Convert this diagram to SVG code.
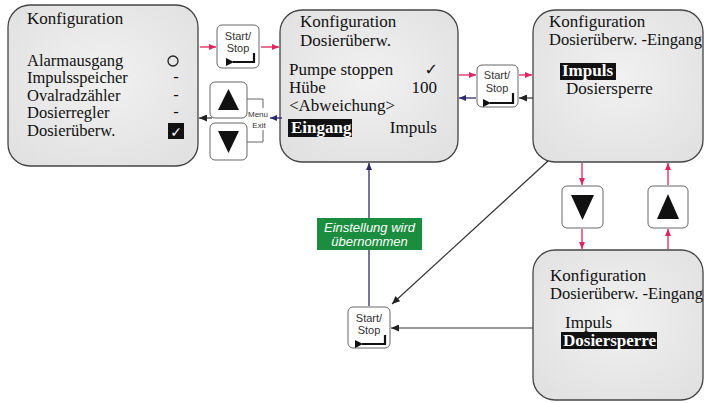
<svg xmlns="http://www.w3.org/2000/svg" width="705" height="403" viewBox="0 0 705 403">
<defs>
<radialGradient id="g" cx="50%" cy="45%" r="70%">
<stop offset="0" stop-color="#f1f1f1"/>
<stop offset="1" stop-color="#e0e0e0"/>
</radialGradient>
<marker id="ar" markerWidth="7" markerHeight="6" refX="7" refY="3" orient="auto" markerUnits="userSpaceOnUse"><path d="M0,0 L7,3 L0,6 Z" fill="#e0245e"/></marker>
<marker id="an" markerWidth="7" markerHeight="6" refX="7" refY="3" orient="auto" markerUnits="userSpaceOnUse"><path d="M0,0 L7,3 L0,6 Z" fill="#2b2b6b"/></marker>
<marker id="ak" markerWidth="8" markerHeight="7" refX="8" refY="3.5" orient="auto" markerUnits="userSpaceOnUse"><path d="M0,0 L8,3.5 L0,7 Z" fill="#222"/></marker>
<marker id="ent" markerWidth="8" markerHeight="8" refX="1" refY="4" orient="auto" markerUnits="userSpaceOnUse"><path d="M8,0 L0,4 L8,8 Z" fill="#111"/></marker>
</defs>
<style>
.box{fill:url(#g);stroke:#444;stroke-width:1.3}
.btn{fill:#fff;stroke:#666;stroke-width:1}
.t{font-family:"Liberation Serif","Times New Roman",serif;font-size:17px;fill:#111}
.t1{font-family:"Liberation Serif","Times New Roman",serif;font-size:16.5px;fill:#111}
.tw{font-family:"Liberation Serif","Times New Roman",serif;font-size:16.5px;fill:#111}
.tb{font-family:"Liberation Serif","Times New Roman",serif;font-size:17px;font-weight:bold;fill:#fff}
.bt{font-family:"Liberation Sans",Arial,sans-serif;font-size:11px;fill:#333;text-anchor:middle}
.me{font-family:"Liberation Sans",Arial,sans-serif;font-size:8px;fill:#333;text-anchor:middle}
.red{stroke:#e0245e;stroke-width:1.3;fill:none;marker-end:url(#ar)}
.nav{stroke:#2b2b6b;stroke-width:1.3;fill:none;marker-end:url(#an)}
.blk{stroke:#333;stroke-width:1.2;fill:none;marker-end:url(#ak)}
.ent{stroke:#111;stroke-width:2.2;fill:none;marker-end:url(#ent)}
.br{stroke:#666;stroke-width:1;fill:none}
</style>
<rect width="705" height="403" fill="#fff"/>

<g id="box1">
<rect class="box" x="8" y="5" width="190" height="161" rx="22"/>
<text class="t" x="27" y="24">Konfiguration</text>
<text class="t1" x="27" y="65.5">Alarmausgang</text>
<text class="t1" x="27" y="83">Impulsspeicher</text>
<text class="t1" x="27" y="100.5">Ovalradzähler</text>
<text class="t1" x="27" y="118">Dosierregler</text>
<text class="t1" x="27" y="135.5">Dosierüberw.</text>
<circle cx="173" cy="61" r="5" fill="none" stroke="#222" stroke-width="1.3"/>
<text class="t1" x="176" y="82" text-anchor="middle">-</text>
<text class="t1" x="176" y="99.5" text-anchor="middle">-</text>
<text class="t1" x="176" y="117" text-anchor="middle">-</text>
<rect x="168" y="123" width="16" height="16" fill="#111"/>
<text x="176" y="136.5" text-anchor="middle" font-family="DejaVu Sans,sans-serif" font-size="14" font-weight="bold" fill="#fff">✓</text>
</g>

<g id="box2">
<rect class="box" x="280" y="10" width="178" height="152" rx="22"/>
<text class="t" x="300" y="27">Konfiguration</text>
<text class="t" x="300" y="46">Dosierüberw.</text>
<text class="t" x="289" y="75">Pumpe stoppen</text>
<text x="438" y="75" text-anchor="end" font-family="DejaVu Sans,sans-serif" font-size="16" fill="#111">✓</text>
<text class="t" x="289" y="93">Hübe</text>
<text class="t" x="437" y="93" text-anchor="end">100</text>
<text class="t" x="289" y="111">&lt;Abweichung&gt;</text>
<rect x="288" y="119" width="64" height="18" fill="#111"/>
<text class="tb" x="291" y="133">Eingang</text>
<text class="t" x="437" y="133" text-anchor="end">Impuls</text>
</g>

<g id="box3">
<rect class="box" x="533" y="10" width="170" height="152" rx="22"/>
<text class="t" x="549" y="27">Konfiguration</text>
<text class="tw" x="549" y="45">Dosierüberw. -Eingang</text>
<rect x="560" y="63" width="56" height="17" fill="#111"/>
<text class="tb" x="562" y="76">Impuls</text>
<text class="t" x="566" y="94">Dosiersperre</text>
</g>

<g id="box4">
<rect class="box" x="533" y="250" width="170" height="150" rx="22"/>
<text class="t" x="550" y="281">Konfiguration</text>
<text class="tw" x="550" y="299">Dosierüberw. -Eingang</text>
<text class="t" x="565" y="328">Impuls</text>
<rect x="561" y="332" width="96" height="17" fill="#111"/>
<text class="tb" x="563" y="346">Dosiersperre</text>
</g>

<g id="btn-startstop1">
<rect class="btn" x="217" y="25" width="42" height="43" rx="5"/>
<text class="bt" x="238" y="40">Start/</text>
<text class="bt" x="238" y="52">Stop</text>
<path class="ent" d="M254,53 V62 H233"/>
</g>

<g id="btn-up1">
<rect class="btn" x="210" y="82" width="37" height="36" rx="5"/>
<path d="M228.5,89 L239,110 L218,110 Z" fill="#111"/>
</g>
<g id="btn-down1">
<rect class="btn" x="210" y="123" width="37" height="37" rx="5"/>
<path d="M218,131 L239,131 L228.5,153 Z" fill="#111"/>
</g>
<g id="menu-exit">
<path class="br" d="M247,99 H263 V108 M263,130 V142 H247"/>
<text class="me" x="258" y="117">Menu</text>
<text class="me" x="259" y="128">Exit</text>
</g>

<g id="btn-startstop2">
<rect class="btn" x="477" y="65" width="41" height="42" rx="5"/>
<text class="bt" x="497" y="79">Start/</text>
<text class="bt" x="497" y="92">Stop</text>
<path class="ent" d="M513,93 V103 H490"/>
</g>

<g id="btn-down2">
<rect class="btn" x="562" y="186" width="41" height="42" rx="5"/>
<path d="M571,195 L594,195 L582.5,220 Z" fill="#111"/>
</g>
<g id="btn-up2">
<rect class="btn" x="648" y="186" width="40" height="42" rx="5"/>
<path d="M668,194 L679,219 L657,219 Z" fill="#111"/>
</g>

<g id="btn-startstop3">
<rect class="btn" x="348" y="307" width="42" height="41" rx="5"/>
<text class="bt" x="369" y="322">Start/</text>
<text class="bt" x="369" y="334">Stop</text>
<path class="ent" d="M385,335 V344 H362"/>
</g>

<g id="label">
<rect x="317" y="218" width="105" height="32" fill="#1b8d3e"/>
<text x="369.5" y="232" text-anchor="middle" font-family="Liberation Sans,Arial,sans-serif" font-style="italic" font-size="13" fill="#fff">Einstellung wird</text>
<text x="369.5" y="246" text-anchor="middle" font-family="Liberation Sans,Arial,sans-serif" font-style="italic" font-size="13" fill="#fff">übernommen</text>
</g>

<g id="connectors">
<line class="red" x1="200" y1="47" x2="216" y2="47"/>
<line class="red" x1="261" y1="47" x2="279" y2="47"/>
<line class="blk" x1="212" y1="118" x2="199" y2="118"/>
<line class="nav" x1="282" y1="118" x2="270" y2="118"/>
<line class="red" x1="459" y1="75" x2="476" y2="75"/>
<line class="red" x1="519" y1="75" x2="532" y2="75"/>
<line class="nav" x1="476" y1="98" x2="459" y2="98"/>
<line class="blk" x1="533" y1="98" x2="519" y2="98"/>
<line class="red" x1="582" y1="163" x2="582" y2="185"/>
<line class="red" x1="582" y1="229" x2="582" y2="249"/>
<line class="red" x1="668" y1="249" x2="668" y2="229"/>
<line class="red" x1="668" y1="185" x2="668" y2="163"/>
<line x1="369" y1="306" x2="369" y2="250" stroke="#2b2b6b" stroke-width="1.3"/>
<line class="nav" x1="369" y1="218" x2="369" y2="163"/>
<line class="blk" x1="548" y1="161" x2="392" y2="304"/>
<line class="blk" x1="533" y1="328" x2="391" y2="328"/>
</g>
</svg>
